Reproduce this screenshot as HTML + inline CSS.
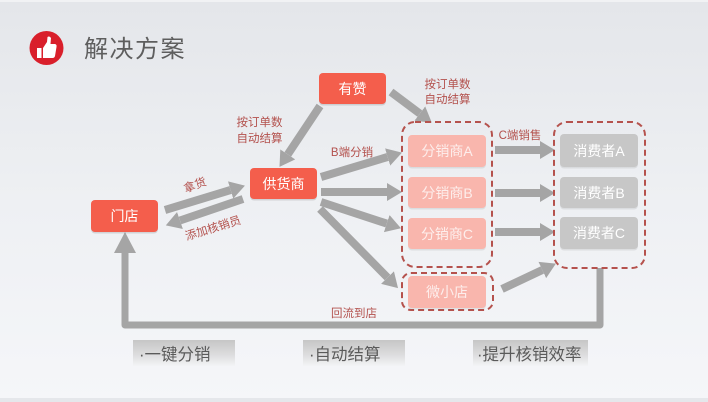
<!DOCTYPE html>
<html><head><meta charset="utf-8">
<style>
html,body{margin:0;padding:0;}
body{width:708px;height:402px;overflow:hidden;}
svg{display:block;}
text{font-family:"Liberation Sans","Noto Sans CJK SC",sans-serif;}
</style></head>
<body>
<svg width="708" height="402" viewBox="0 0 708 402" xmlns="http://www.w3.org/2000/svg">
<defs>
<linearGradient id="bg" x1="0" y1="0" x2="0" y2="1">
<stop offset="0" stop-color="#e4e6ea"/>
<stop offset="0.5" stop-color="#eef0f3"/>
<stop offset="1" stop-color="#f5f6f9"/>
</linearGradient>
<linearGradient id="btn" x1="0" y1="0" x2="0" y2="1">
<stop offset="0" stop-color="#c6c6c6"/>
<stop offset="0.55" stop-color="#dcdcdd"/>
<stop offset="1" stop-color="#f3f4f6"/>
</linearGradient>
<marker id="ah" markerUnits="userSpaceOnUse" markerWidth="16" markerHeight="18" refX="0" refY="9" orient="auto">
<path d="M0,0 L15,9 L0,18 z" fill="#a5a5a5"/>
</marker>
</defs>
<rect x="0" y="0" width="708" height="402" fill="url(#bg)"/>
<rect x="0" y="0" width="708" height="2" fill="#f1f2f4"/>
<rect x="0" y="398" width="708" height="4" fill="#e5e7eb"/>

<!-- title icon -->
<circle cx="46.5" cy="48" r="17" fill="#d91f2b"/>
<rect x="37" y="48" width="4.5" height="10" fill="#fff"/>
<path d="M43,48 L47,42 L47.5,37 Q49.5,35.5 51,38 L50.5,44 L55,44 Q57,44.5 56.5,47 L55,56 Q54.5,58 52.5,58 L43,58 z" fill="#fff"/>
<text x="84" y="57" font-size="24" fill="#5e5e5e" letter-spacing="1.5">解决方案</text>

<!-- arrows -->
<g stroke="#a5a5a5" stroke-width="8" fill="none" marker-end="url(#ah)">
<line x1="320" y1="106" x2="287.8" y2="154.4"/>
<line x1="391" y1="92" x2="419.8" y2="113.6"/>
<line x1="165" y1="210" x2="230.6" y2="190"/>
<line x1="243" y1="199" x2="180" y2="220.5"/>
<line x1="321" y1="177" x2="387.6" y2="157"/>
<line x1="321" y1="192" x2="387" y2="192"/>
<line x1="321" y1="202" x2="386.7" y2="223.6"/>
<line x1="320" y1="209" x2="387.5" y2="277.5"/>
<line x1="495" y1="150" x2="540" y2="150"/>
<line x1="495" y1="193" x2="540" y2="193"/>
<line x1="495" y1="232" x2="540" y2="232"/>
<line x1="502" y1="289" x2="542.3" y2="270"/>
</g>
<polyline points="600,268 600,325 125,325 125,250" stroke="#a5a5a5" stroke-width="7" fill="none" stroke-linejoin="round"/>
<path d="M114,253 L125,232 L136,253 z" fill="#a5a5a5"/>

<!-- dashed groups -->
<g fill="none" stroke="#b5524d" stroke-width="2" stroke-dasharray="6,4">
<rect x="402" y="122" width="90" height="145" rx="13"/>
<rect x="402" y="273" width="91" height="37" rx="9"/>
<rect x="554" y="122" width="91" height="146" rx="13"/>
</g>

<!-- red nodes -->
<g fill="rgba(0,0,0,0.12)">
<rect x="319" y="74.5" width="67" height="31" rx="4"/>
<rect x="250" y="169.5" width="67" height="31" rx="4"/>
<rect x="91" y="201.5" width="67" height="32" rx="4"/>
</g>
<g fill="#f45e4c">
<rect x="319" y="73" width="67" height="31" rx="4"/>
<rect x="250" y="168" width="67" height="31" rx="4"/>
<rect x="91" y="200" width="67" height="32" rx="4"/>
</g>
<g fill="#fff" font-size="14" text-anchor="middle">
<text x="352.5" y="94">有赞</text>
<text x="283.5" y="189">供货商</text>
<text x="124.5" y="221">门店</text>
</g>

<!-- pink nodes -->
<g fill="rgba(0,0,0,0.08)">
<rect x="408" y="136.5" width="78" height="32" rx="4"/>
<rect x="408" y="178.5" width="78" height="31" rx="4"/>
<rect x="408" y="219.5" width="78" height="31" rx="4"/>
<rect x="408" y="277.5" width="78" height="32" rx="4"/>
</g>
<g fill="#f9b6ad">
<rect x="408" y="135" width="78" height="32" rx="4"/>
<rect x="408" y="177" width="78" height="31" rx="4"/>
<rect x="408" y="218" width="78" height="31" rx="4"/>
<rect x="408" y="276" width="78" height="32" rx="4"/>
</g>
<g fill="#fdeeec" font-size="14" text-anchor="middle">
<text x="447" y="156">分销商A</text>
<text x="447" y="198">分销商B</text>
<text x="447" y="239">分销商C</text>
<text x="447" y="297">微小店</text>
</g>

<!-- consumer nodes -->
<g fill="rgba(0,0,0,0.08)">
<rect x="560" y="135.5" width="78" height="33" rx="4"/>
<rect x="560" y="178.5" width="78" height="31" rx="4"/>
<rect x="560" y="218.5" width="78" height="32" rx="4"/>
</g>
<g fill="#c7c7c7">
<rect x="560" y="134" width="78" height="33" rx="4"/>
<rect x="560" y="177" width="78" height="31" rx="4"/>
<rect x="560" y="217" width="78" height="32" rx="4"/>
</g>
<g fill="#ffffff" font-size="14" text-anchor="middle">
<text x="599" y="156">消费者A</text>
<text x="599" y="198">消费者B</text>
<text x="599" y="238">消费者C</text>
</g>

<!-- labels -->
<g fill="#b3504c" font-size="11.5" text-anchor="middle">
<text x="259.5" y="126">按订单数</text>
<text x="259.5" y="142">自动结算</text>
<text x="447.5" y="88">按订单数</text>
<text x="447.5" y="103">自动结算</text>
<text x="352" y="156">B端分销</text>
<text x="520" y="139">C端销售</text>
<text x="354" y="317">回流到店</text>
<text x="195" y="189" transform="rotate(-20 195 185)">拿货</text>
<text x="213" y="232" transform="rotate(-17 213 228)">添加核销员</text>
</g>

<!-- bottom buttons -->
<rect x="133" y="340" width="102" height="26" fill="url(#btn)"/>
<rect x="303" y="340" width="102" height="26" fill="url(#btn)"/>
<rect x="473" y="340" width="115" height="26" fill="url(#btn)"/>
<g fill="#5a5a5a" font-size="16.5">
<text x="139" y="360">·一键分销</text>
<text x="309" y="360">·自动结算</text>
<text x="477" y="360">·提升核销效率</text>
</g>
</svg>
</body></html>
